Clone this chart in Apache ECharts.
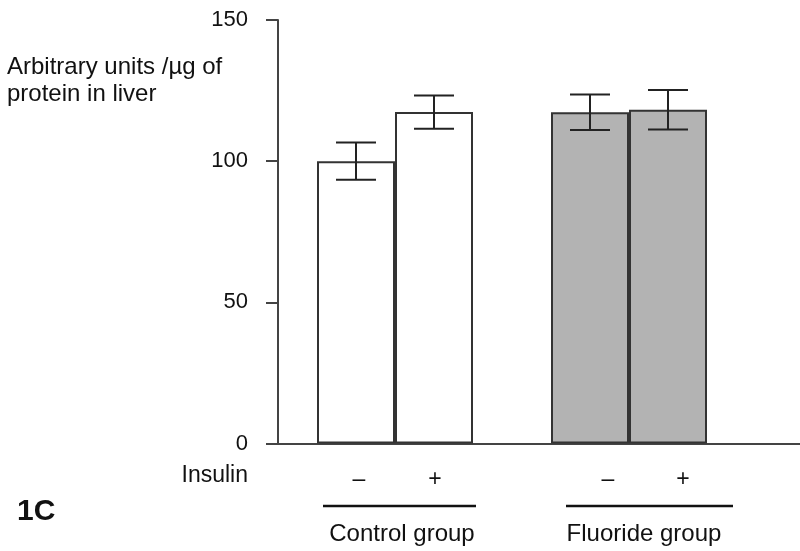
<!DOCTYPE html>
<html>
<head>
<meta charset="utf-8">
<script src="https://cdn.jsdelivr.net/npm/echarts@6/dist/echarts.min.js"></script>
<style>
  html, body { margin: 0; padding: 0; background: #fff; }
  #chart { width: 800px; height: 551px; }
</style>
</head>
<body>
<div id="chart"></div>
<script>
// bar values
const barLabels = ['Control -', 'Control +', 'Fluoride -', 'Fluoride +']
const barSlots = [1, 2, 4, 5]
const barValues = [100, 117.4, 117.3, 118.2]
const barErrors = [6.6, 5.9, 6.3, 7.0]
const barFills = ['#ffffff', '#ffffff', '#b3b3b3', '#b3b3b3']
const yTicks = [0, 50, 100, 150]

const font = 'Liberation Sans, Arial, sans-serif'
const chart = echarts.init(document.getElementById('chart'))

const barData = barSlots.map((x, i) => ({
  name: barLabels[i],
  value: [x, barValues[i]],
  itemStyle: { color: barFills[i] },
}))
const errData = barSlots.map((x, i) => [x, barValues[i] - barErrors[i], barValues[i] + barErrors[i]])

const txt = (x, y, text, extra) => ({
  type: 'text', x, y,
  style: Object.assign({ text, font: '24px ' + font, fill: '#111', align: 'center', verticalAlign: 'middle' }, extra),
})

chart.setOption({
  animation: false,
  backgroundColor: '#fff',
  grid: { left: 278, right: 0, top: 20, bottom: 107.5 },
  xAxis: {
    type: 'value',
    min: 0,
    max: 522 / 78,
    axisLine: { show: true, onZero: true, lineStyle: { color: '#444', width: 2 } },
    axisTick: { show: false },
    axisLabel: { show: false },
    splitLine: { show: false },
  },
  yAxis: {
    type: 'value',
    min: yTicks[0],
    max: yTicks[yTicks.length - 1],
    interval: 50,
    axisLine: { show: true, lineStyle: { color: '#444', width: 2 } },
    axisTick: { show: true, length: 12, lineStyle: { color: '#444', width: 2 } },
    axisLabel: { fontSize: 22, fontFamily: font, color: '#111', margin: 30, padding: [0, 0, 6, 0] },
    splitLine: { show: false },
  },
  series: [
    {
      type: 'bar',
      barWidth: 78,
      data: barData,
      itemStyle: { borderColor: '#333', borderWidth: 2 },
    },
    {
      type: 'custom',
      data: errData,
      z: 5,
      renderItem: (params, api) => {
        const lo = api.coord([api.value(0), api.value(1)])
        const hi = api.coord([api.value(0), api.value(2)])
        const w = 20
        const style = { stroke: '#222', lineWidth: 2 }
        return {
          type: 'group',
          children: [
            { type: 'line', shape: { x1: lo[0], y1: lo[1], x2: hi[0], y2: hi[1] }, style },
            { type: 'line', shape: { x1: lo[0] - w, y1: lo[1], x2: lo[0] + w, y2: lo[1] }, style },
            { type: 'line', shape: { x1: hi[0] - w, y1: hi[1], x2: hi[0] + w, y2: hi[1] }, style },
          ],
        }
      },
    },
  ],
  graphic: [
    txt(7, 54, 'Arbitrary units /µg of\nprotein in liver', { align: 'left', verticalAlign: 'top', lineHeight: 27 }),
    txt(248, 476, 'Insulin', { align: 'right', font: '23px ' + font }),
    txt(359, 480, '–', { font: '23px ' + font }),
    txt(435, 480, '+', { font: '23px ' + font }),
    txt(608, 480, '–', { font: '23px ' + font }),
    txt(683, 480, '+', { font: '23px ' + font }),
    { type: 'line', shape: { x1: 323, y1: 506, x2: 476, y2: 506 }, style: { stroke: '#111', lineWidth: 2.5 } },
    { type: 'line', shape: { x1: 566, y1: 506, x2: 733, y2: 506 }, style: { stroke: '#111', lineWidth: 2.5 } },
    txt(402, 534, 'Control group'),
    txt(644, 534, 'Fluoride group'),
    txt(17, 512, '1C', { align: 'left', font: 'bold 30px ' + font }),
  ],
})
</script>
</body>
</html>
